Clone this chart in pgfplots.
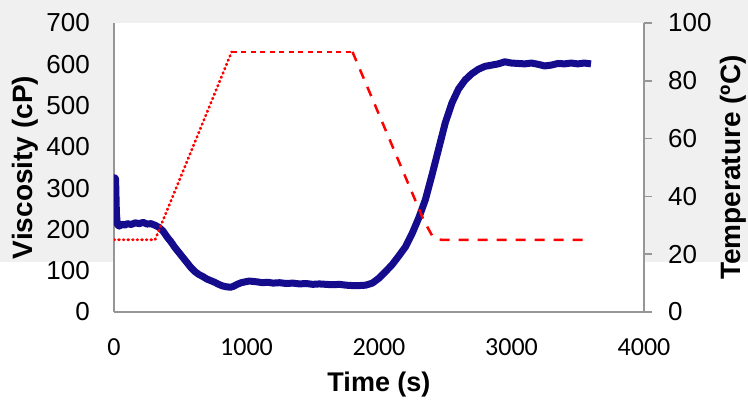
\documentclass[border=0pt]{standalone}
\usepackage{fontspec}
\setmainfont{Liberation Sans}
\newfontfamily\calibri{Carlito}
\usepackage{pgfplots}
\usepackage{pgfplotstable}
\pgfplotsset{compat=1.18}
\definecolor{bggray}{RGB}{240,240,240}
\definecolor{axgray}{RGB}{150,150,150}
\definecolor{viscblue}{RGB}{20,12,140}

% viscosity (cP) vs time (s)
\pgfplotstableread{
t v
0 210
3 260
6 325
12 322
18 240
25 212
40 208
60 213
80 210
100 214
130 212
160 216
190 214
220 217
250 213
280 214
310 210
340 205
370 196
400 182
430 170
460 156
490 144
520 132
550 120
580 108
610 98
640 91
670 86
700 80
730 76
760 72
790 67
820 63
850 61
880 60
900 62
930 67
960 71
990 73
1020 75
1050 74
1080 73
1120 71
1160 72
1200 70
1250 71
1300 69
1350 70
1400 68
1450 69
1500 67
1550 68
1600 67
1650 66
1700 67
1750 65
1800 64
1850 64
1900 65
1950 70
2000 82
2050 98
2100 115
2150 136
2200 158
2250 190
2300 228
2350 272
2400 332
2450 395
2500 458
2550 506
2600 540
2650 562
2700 577
2750 588
2800 595
2850 598
2900 601
2950 606
3000 603
3050 602
3100 601
3150 603
3200 600
3250 596
3300 598
3350 602
3400 601
3450 603
3500 601
3550 603
3600 601
}\viscdata

\begin{document}
\begin{tikzpicture}
\useasboundingbox (0,0) rectangle (748pt,400pt);
\fill[white] (0,0) rectangle (748pt,400pt);
\fill[bggray] (0,138pt) rectangle (748pt,400pt);

\begin{axis}[
  at={(114pt,88pt)}, anchor=south west,
  scale only axis, width=530pt, height=289pt,
  xmin=0, xmax=4000, ymin=0, ymax=700,
  axis x line=bottom, axis y line=left,
  axis line style={axgray, line width=1.5pt, -},
  xtick={0,1000,...,4000}, ytick={0,100,...,700},
  major tick length=0pt,
  /pgf/number format/assume math mode=true,
  /pgf/number format/1000 sep={},
  xticklabel style={font=\calibri\fontsize{26}{30}\selectfont, inner sep=0pt, yshift=-26pt},
  yticklabel style={font=\fontsize{26}{30}\selectfont, inner sep=0pt, xshift=-24pt},
  axis background/.style={fill=white},
  xlabel={Time (s)}, ylabel={Viscosity (cP)},
  xlabel style={font=\bfseries\fontsize{27}{32}\selectfont, at={(axis description cs:0.5,-0.2526)}, anchor=center},
  ylabel style={font=\bfseries\fontsize{28}{32}\selectfont, at={(axis description cs:-0.168,0.5)}, anchor=center},
]
\addplot[viscblue, line width=7pt, line join=round] table {\viscdata};
\end{axis}

\begin{axis}[
  at={(114pt,88pt)}, anchor=south west,
  scale only axis, width=530pt, height=289pt,
  xmin=0, xmax=4000, ymin=0, ymax=100,
  axis x line=none, axis y line=right,
  axis line style={axgray, line width=1.5pt, -},
  ytick={0,20,...,100},
  tick align=outside, major tick length=8pt,
  tick style={axgray, line width=1.5pt},
  /pgf/number format/assume math mode=true,
  yticklabel style={font=\fontsize{26}{30}\selectfont, inner sep=0pt, xshift=16pt},
  ylabel={Temperature (ºC)},
  ylabel style={font=\bfseries\fontsize{28}{32}\selectfont, at={(axis description cs:1.168,0.5)}, anchor=center},
]
\addplot[red, line width=2.8pt, line cap=round, dash pattern=on 0.8pt off 3.8pt] coordinates {(0,25) (310,25) (888,90)};
\addplot[red, line width=2.5pt, dash pattern=on 5pt off 4.5pt] coordinates {(888,90) (1800,90)};
\addplot[red, line width=2.5pt, dash pattern=on 10pt off 9pt] coordinates {(1800,90) (2340,31.5) (2400,26.5) (2440,25.2) (2470,25) (3600,25)};
\end{axis}
\end{tikzpicture}
\end{document}
